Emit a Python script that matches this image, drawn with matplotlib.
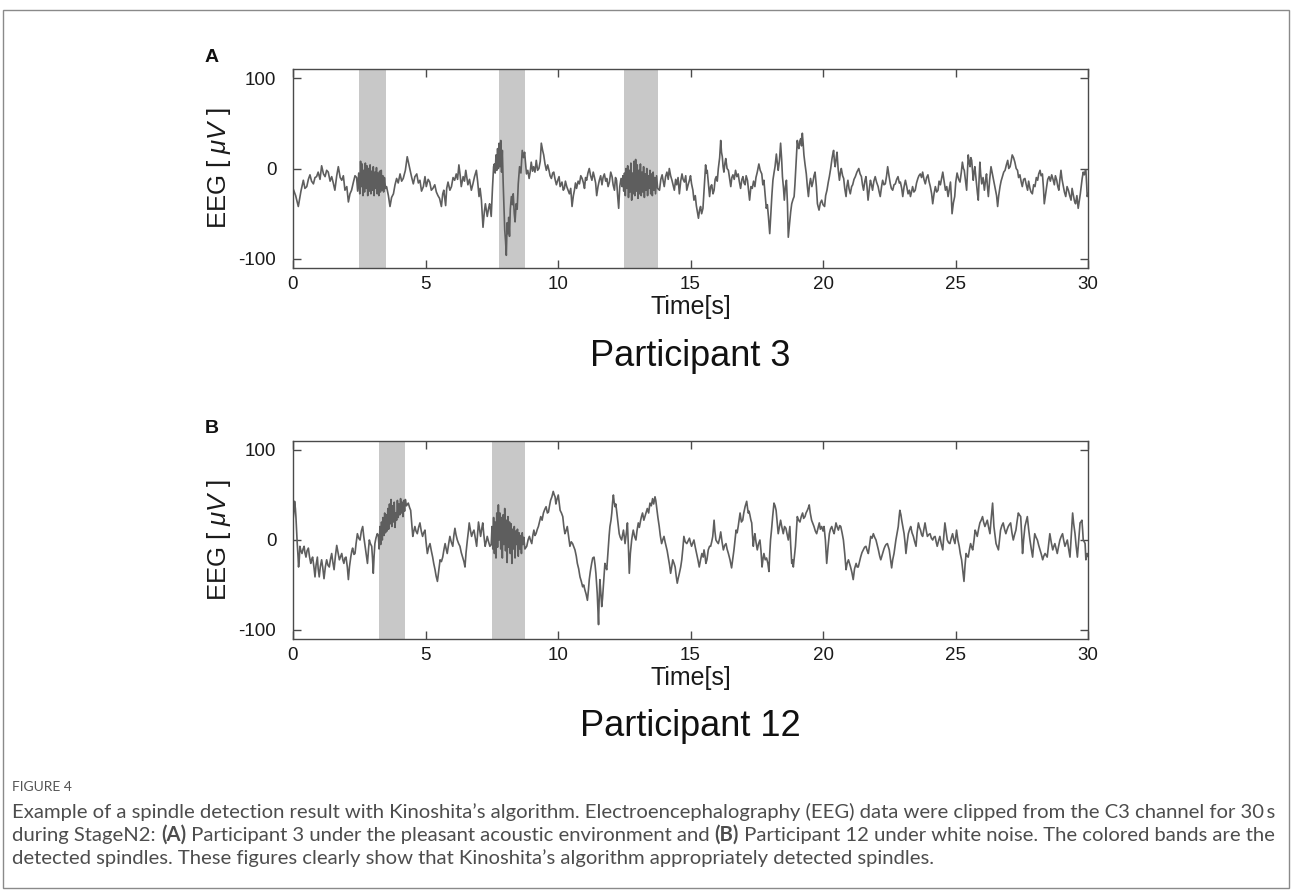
import numpy as np
import matplotlib
matplotlib.use('Agg')
import matplotlib.pyplot as plt
from matplotlib import font_manager

# spindle bands [start, end] in seconds
bands_a = [(2.5, 3.5), (7.76, 8.75), (12.5, 13.76)]
bands_b = [(3.26, 4.24), (7.51, 8.75)]

x_ticks = [0, 5, 10, 15, 20, 25, 30]
y_ticks = [-100, 0, 100]

# EEG trace, (time [s], amplitude [uV])
trace_a = [
    (0.00, -22), (0.10, -30), (0.20, -42), (0.30, -25), (0.39, -13), (0.45, -22),
    (0.52, -20), (0.58, -12), (0.64, -7), (0.70, -14), (0.77, -17), (0.83, -10),
    (0.89, -9), (0.95, -4), (1.02, -12), (1.08, 3), (1.15, -6), (1.21, -9),
    (1.27, -2), (1.33, -4), (1.40, -14), (1.46, -9), (1.52, -16), (1.58, -24),
    (1.65, -8), (1.71, 2), (1.78, -10), (1.84, -13), (1.90, -8), (1.96, -24),
    (2.03, -20), (2.09, -37), (2.15, -28), (2.21, -24), (2.28, -15), (2.34, -8),
    # spindle 1
    (2.40, -10), (2.44, -25), (2.48, -5), (2.52, -28), (2.55, 8), (2.58, -20),
    (2.61, 5), (2.64, -30), (2.67, -2), (2.70, -26), (2.73, 6), (2.76, -22),
    (2.79, 3), (2.82, -30), (2.85, 0), (2.88, -25), (2.91, 4), (2.94, -28),
    (2.97, -3), (3.00, -24), (3.03, 2), (3.06, -30), (3.09, -4), (3.12, -22),
    (3.15, 1), (3.18, -28), (3.21, -5), (3.24, -30), (3.27, -3), (3.30, -26),
    (3.33, -2), (3.36, -24), (3.39, -8), (3.42, -26), (3.45, -10), (3.49, -22),
    (3.53, -20), (3.60, -30), (3.66, -42), (3.72, -32), (3.79, -28), (3.85, -18),
    (3.91, -11), (3.97, -16), (4.04, -6), (4.10, -14), (4.16, -11), (4.24, -2),
    (4.31, 13), (4.36, 6), (4.42, -2), (4.48, -10), (4.54, -17), (4.60, -9),
    (4.67, -6), (4.73, -16), (4.79, -13), (4.85, -25), (4.92, -20), (4.98, -9),
    (5.03, -20), (5.10, -12), (5.16, -15), (5.22, -24), (5.28, -22), (5.35, -18),
    (5.41, -26), (5.47, -30), (5.53, -33), (5.60, -42), (5.65, -28), (5.69, -24),
    (5.76, -41), (5.80, -22), (5.85, -15), (5.92, -24), (5.98, -20), (6.04, -10),
    (6.10, -13), (6.16, -6), (6.21, -12), (6.26, 4), (6.31, -8), (6.35, -20),
    (6.42, -9), (6.47, -14), (6.52, -2), (6.56, -10), (6.60, -18), (6.66, -12),
    (6.73, -24), (6.79, -17), (6.85, -9), (6.92, -2), (6.97, -15), (7.02, -31),
    (7.06, -22), (7.11, -35), (7.17, -65), (7.22, -48), (7.26, -39), (7.33, -53),
    (7.38, -44), (7.42, -39), (7.48, -53), (7.53, -20), (7.57, 2),
    # spindle 2
    (7.60, 5), (7.63, -5), (7.66, 15), (7.69, -2), (7.72, 22), (7.75, 0),
    (7.78, 28), (7.81, 2), (7.84, 31), (7.87, -4), (7.90, 20), (7.93, -15),
    (7.96, -40), (7.99, -68), (8.02, -80), (8.05, -96), (8.08, -60), (8.11, -72),
    (8.14, -54), (8.17, -75), (8.20, -45), (8.24, -31), (8.28, -40), (8.31, -28),
    (8.35, -50), (8.38, -59), (8.42, -39), (8.46, -45), (8.50, -17), (8.55, 2),
    (8.60, -5), (8.65, 20), (8.70, 12), (8.74, 18),
    (8.81, -6), (8.86, -2), (8.91, -11), (8.95, -4), (8.99, 7), (9.04, -3),
    (9.08, 2), (9.13, -4), (9.18, 9), (9.23, -2), (9.28, 0), (9.33, 8),
    (9.37, 28), (9.42, 20), (9.46, 15), (9.51, 5), (9.56, -2), (9.61, 4),
    (9.66, -2), (9.70, -8), (9.75, -11), (9.80, -5), (9.84, -4), (9.89, -12),
    (9.94, -18), (9.99, -13), (10.04, -9), (10.08, -20), (10.15, -15), (10.20, -24),
    (10.24, -22), (10.28, -14), (10.33, -20), (10.38, -24), (10.43, -28), (10.48, -22),
    (10.53, -42), (10.58, -30), (10.62, -24), (10.66, -16), (10.70, -22), (10.76, -14),
    (10.81, -17), (10.86, -8), (10.91, -11), (10.96, -16), (11.00, -22), (11.04, -10),
    (11.08, -13), (11.13, -5), (11.18, 0), (11.23, -8), (11.28, -13), (11.33, -4),
    (11.37, -9), (11.42, -16), (11.46, -30), (11.51, -20), (11.56, -13), (11.61, -8),
    (11.66, -18), (11.70, -10), (11.75, -6), (11.80, -14), (11.84, -11), (11.89, -20),
    (11.94, -15), (11.99, -4), (12.04, -9), (12.08, -18), (12.13, -24), (12.17, -10),
    (12.21, -13), (12.25, -30), (12.29, -44), (12.33, -20), (12.38, -11), (12.42, -20),
    # spindle 3
    (12.45, -8), (12.48, -25), (12.51, -5), (12.54, -30), (12.57, 0), (12.60, -22),
    (12.63, 3), (12.66, -32), (12.69, -2), (12.72, -26), (12.75, 6), (12.78, -35),
    (12.81, -5), (12.84, -28), (12.87, 8), (12.90, -30), (12.93, 10), (12.96, -25),
    (12.99, 4), (13.02, -33), (13.05, -2), (13.08, -28), (13.11, 5), (13.14, -30),
    (13.17, -4), (13.20, -26), (13.23, 2), (13.26, -32), (13.29, -6), (13.32, -24),
    (13.35, 0), (13.38, -30), (13.41, -8), (13.44, -22), (13.47, -2), (13.50, -28),
    (13.53, -6), (13.56, -30), (13.59, -4), (13.62, -24), (13.65, -10), (13.68, -28),
    (13.72, -8), (13.76, -22),
    (13.83, -24), (13.88, -12), (13.93, -7), (13.97, -14), (14.01, -20), (14.06, -9),
    (14.11, -4), (14.16, -12), (14.20, 0), (14.25, -8), (14.30, -13), (14.34, -18),
    (14.39, -24), (14.44, -12), (14.48, -18), (14.53, -10), (14.58, -28), (14.63, -14),
    (14.68, -6), (14.72, -12), (14.77, -15), (14.82, -8), (14.86, -24), (14.91, -18),
    (14.96, -13), (15.00, -8), (15.04, -17), (15.09, -24), (15.13, -35), (15.18, -30),
    (15.22, -41), (15.26, -48), (15.30, -55), (15.34, -46), (15.38, -42), (15.42, -50),
    (15.47, -44), (15.52, -20), (15.57, 4), (15.60, -5), (15.63, -2), (15.68, -18),
    (15.72, -31), (15.76, -20), (15.80, -18), (15.85, -28), (15.89, -24), (15.93, -12),
    (15.97, -9), (16.01, -14), (16.05, 0), (16.10, 12), (16.14, 31), (16.17, 18),
    (16.20, 13), (16.23, 2), (16.26, -4), (16.30, 6), (16.33, 11), (16.38, 0),
    (16.43, -2), (16.48, -12), (16.52, -20), (16.56, -10), (16.60, -7), (16.65, -12),
    (16.70, -2), (16.75, -9), (16.80, -6), (16.84, -14), (16.89, -22), (16.94, -12),
    (16.98, -9), (17.02, -16), (17.06, -18), (17.10, -8), (17.15, -13), (17.19, -24),
    (17.23, -35), (17.28, -20), (17.33, -22), (17.38, -14), (17.43, -20), (17.47, -10),
    (17.52, -4), (17.58, 5), (17.63, -2), (17.69, -6), (17.73, -18), (17.77, -13),
    (17.82, -30), (17.86, -44), (17.90, -40), (17.94, -53), (17.99, -72), (18.03, -50),
    (18.07, -30), (18.11, -13), (18.15, -5), (18.19, 2), (18.24, 16), (18.28, 5),
    (18.31, -2), (18.36, 10), (18.40, 28), (18.44, 10), (18.47, -9), (18.51, -22),
    (18.54, -35), (18.58, -20), (18.62, -13), (18.66, -40), (18.69, -76), (18.74, -61),
    (18.78, -48), (18.82, -39), (18.87, -34), (18.91, -31), (18.94, -18), (18.97, -2),
    (19.00, 15), (19.03, 31), (19.06, 24), (19.09, 22), (19.12, 30), (19.16, 33),
    (19.19, 25), (19.22, 39), (19.25, 28), (19.28, 15), (19.32, 5), (19.37, -6),
    (19.41, -20), (19.45, -31), (19.49, -18), (19.53, -11), (19.58, -20), (19.62, -15),
    (19.66, -8), (19.70, -4), (19.75, -20), (19.79, -39), (19.85, -46), (19.90, -38),
    (19.95, -35), (20.00, -40), (20.06, -42), (20.10, -30), (20.15, -24), (20.20, -15),
    (20.24, -9), (20.29, 0), (20.34, 11), (20.37, 16), (20.40, 20), (20.43, 8),
    (20.46, 2), (20.50, 12), (20.53, 18), (20.57, 0), (20.62, -13), (20.66, -4),
    (20.69, 0), (20.74, -8), (20.78, -11), (20.82, -22), (20.87, -31), (20.90, -20),
    (20.94, -13), (20.98, -22), (21.03, -28), (21.08, -20), (21.12, -18), (21.17, -12),
    (21.22, -9), (21.28, -4), (21.35, 0), (21.40, -6), (21.45, -9), (21.49, -18),
    (21.53, -24), (21.58, -14), (21.62, -9), (21.66, -20), (21.70, -35), (21.75, -22),
    (21.79, -13), (21.83, -18), (21.87, -24), (21.92, -14), (21.97, -9), (22.02, -15),
    (22.08, -20), (22.12, -26), (22.16, -31), (22.21, -20), (22.25, -13), (22.30, -18),
    (22.35, -17), (22.40, -8), (22.44, 2), (22.49, -8), (22.54, -17), (22.58, -22),
    (22.63, -24), (22.68, -18), (22.73, -17), (22.78, -12), (22.83, -9), (22.88, -16),
    (22.92, -15), (22.97, -22), (23.01, -31), (23.06, -20), (23.11, -13), (23.16, -20),
    (23.21, -28), (23.26, -24), (23.30, -31), (23.34, -26), (23.38, -20), (23.43, -26),
    (23.48, -24), (23.53, -16), (23.58, -11), (23.62, -8), (23.67, -6), (23.72, -10),
    (23.76, -4), (23.81, -12), (23.86, -17), (23.91, -10), (23.96, -7), (24.00, -14),
    (24.05, -20), (24.10, -28), (24.14, -39), (24.19, -28), (24.24, -20), (24.29, -26),
    (24.34, -24), (24.38, -14), (24.43, -18), (24.48, -10), (24.52, -4), (24.57, -14),
    (24.62, -24), (24.67, -20), (24.72, -31), (24.77, -22), (24.81, -15), (24.84, -30),
    (24.87, -50), (24.92, -38), (24.97, -31), (25.01, -15), (25.06, -5), (25.12, -12),
    (25.17, -15), (25.22, -4), (25.26, 7), (25.30, 0), (25.33, -2), (25.38, -14),
    (25.42, -24), (25.45, -5), (25.48, 15), (25.52, 6), (25.55, 2), (25.58, 12),
    (25.61, 9), (25.64, -2), (25.67, -13), (25.70, -4), (25.73, 2), (25.77, -10),
    (25.80, -20), (25.83, -28), (25.86, -35), (25.89, -12), (25.92, 7), (25.95, -6),
    (25.99, -17), (26.04, -10), (26.09, -24), (26.13, -14), (26.17, -6), (26.20, -18),
    (26.24, -31), (26.29, -12), (26.34, 2), (26.38, -4), (26.43, -11), (26.47, -18),
    (26.51, -24), (26.55, -30), (26.59, -42), (26.63, -30), (26.68, -20), (26.72, -14),
    (26.77, -9), (26.82, -4), (26.87, -2), (26.92, 4), (26.97, 9), (27.01, 0),
    (27.06, 2), (27.10, 8), (27.14, 15), (27.19, 12), (27.24, 7), (27.29, 0),
    (27.34, -2), (27.38, -10), (27.43, -7), (27.48, -15), (27.52, -20), (27.57, -12),
    (27.62, -11), (27.67, -18), (27.72, -24), (27.76, -14), (27.81, -22), (27.85, -26),
    (27.90, -28), (27.95, -18), (28.00, -20), (28.05, -10), (28.10, -13), (28.14, -6),
    (28.19, -2), (28.23, -8), (28.28, -6), (28.32, -22), (28.35, -39), (28.40, -28),
    (28.44, -20), (28.48, -12), (28.53, -9), (28.58, -14), (28.63, -7), (28.68, -12),
    (28.73, -18), (28.77, -8), (28.82, -13), (28.86, -20), (28.90, -24), (28.94, -12),
    (28.98, -2), (29.02, -12), (29.07, -20), (29.11, -26), (29.16, -31), (29.21, -20),
    (29.26, -24), (29.31, -30), (29.36, -35), (29.40, -22), (29.45, -30), (29.49, -36),
    (29.53, -39), (29.58, -30), (29.63, -44), (29.67, -36), (29.71, -28), (29.75, -18),
    (29.78, -11), (29.82, -4), (29.86, -7), (29.90, -2), (29.92, -2), (29.95, -18),
    (29.97, -31), (30.00, -28),
]

trace_b = [
    (0.00, 22), (0.03, 30), (0.06, 43), (0.09, 35), (0.11, 26), (0.14, 8),
    (0.16, -4), (0.19, -18), (0.21, -30), (0.24, -20), (0.26, -7), (0.30, -12),
    (0.34, -15), (0.38, -10), (0.42, -7), (0.45, -14), (0.49, -19), (0.53, -12),
    (0.58, -9), (0.62, -18), (0.67, -26), (0.70, -22), (0.74, -19), (0.79, -30),
    (0.83, -41), (0.87, -28), (0.92, -19), (0.95, -32), (0.99, -41), (1.03, -30),
    (1.08, -22), (1.12, -30), (1.17, -43), (1.22, -30), (1.27, -22), (1.32, -28),
    (1.37, -30), (1.41, -22), (1.46, -15), (1.50, -24), (1.55, -33), (1.60, -18),
    (1.65, -6), (1.70, -14), (1.75, -22), (1.80, -18), (1.84, -15), (1.88, -22),
    (1.92, -26), (1.96, -20), (2.00, -19), (2.05, -30), (2.09, -44), (2.13, -30),
    (2.18, -19), (2.22, -12), (2.25, -9), (2.30, -16), (2.34, -15), (2.38, -4),
    (2.43, 7), (2.48, 2), (2.53, 0), (2.58, 10), (2.63, 15), (2.67, 4),
    (2.72, -7), (2.77, -18), (2.81, -26), (2.85, -10), (2.88, 0), (2.92, -4),
    (2.97, -7), (3.00, -20), (3.03, -37), (3.06, -18), (3.09, -4), (3.13, 2),
    (3.18, 7),
    # spindle 1
    (3.22, 5), (3.25, -10), (3.28, 15), (3.31, -5), (3.34, 20), (3.37, 0),
    (3.40, 25), (3.43, 5), (3.46, 30), (3.49, 8), (3.52, 28), (3.55, 10),
    (3.58, 35), (3.61, 12), (3.64, 40), (3.67, 18), (3.70, 45), (3.73, 15),
    (3.76, 38), (3.79, 20), (3.82, 42), (3.85, 14), (3.88, 30), (3.91, 22),
    (3.94, 44), (3.97, 25), (4.00, 40), (4.03, 28), (4.06, 46), (4.09, 30),
    (4.12, 42), (4.15, 26), (4.18, 44), (4.21, 32), (4.24, 45), (4.28, 38),
    (4.35, 41), (4.40, 36), (4.44, 33), (4.48, 18), (4.52, 4), (4.56, 10),
    (4.60, 15), (4.64, 10), (4.69, 7), (4.74, 14), (4.79, 19), (4.84, 10),
    (4.89, 4), (4.93, 8), (4.98, 11), (5.02, -2), (5.07, -15), (5.12, -8),
    (5.17, -4), (5.22, -12), (5.27, -19), (5.31, -26), (5.36, -33), (5.40, -40),
    (5.45, -46), (5.50, -34), (5.55, -22), (5.60, -24), (5.65, -19), (5.70, -10),
    (5.74, -4), (5.78, -10), (5.82, -15), (5.87, -5), (5.92, 4), (5.97, -2),
    (6.03, -7), (6.07, 5), (6.11, 13), (6.15, 6), (6.20, 0), (6.25, -4),
    (6.30, -7), (6.35, -14), (6.40, -19), (6.45, -24), (6.49, -30), (6.53, -14),
    (6.58, 0), (6.62, 10), (6.65, 19), (6.70, 10), (6.74, 4), (6.78, 8),
    (6.83, 11), (6.88, 2), (6.93, -7), (6.97, 8), (7.00, 20), (7.04, 12),
    (7.08, 4), (7.12, 12), (7.16, 19), (7.20, 6), (7.25, -7), (7.29, -2),
    (7.33, 4), (7.38, -2), (7.43, -7),
    # spindle 2
    (7.48, -5), (7.51, 15), (7.54, -10), (7.57, 25), (7.60, -15), (7.63, 20),
    (7.66, -20), (7.69, 30), (7.72, -8), (7.75, 39), (7.78, 0), (7.81, 30),
    (7.84, -10), (7.87, 25), (7.90, -20), (7.93, 28), (7.96, -5), (7.99, 35),
    (8.02, -12), (8.05, 22), (8.08, -25), (8.11, 26), (8.14, -8), (8.17, 20),
    (8.20, -15), (8.23, 18), (8.26, -26), (8.29, 12), (8.32, -10), (8.35, 15),
    (8.38, -20), (8.41, 10), (8.44, -5), (8.47, 12), (8.50, -18), (8.53, 8),
    (8.56, -10), (8.59, 5), (8.62, -15), (8.65, 8), (8.68, -5), (8.71, 3),
    (8.75, -10),
    (8.82, -7), (8.87, 0), (8.92, 4), (8.96, 0), (9.01, -4), (9.05, 5),
    (9.09, 11), (9.13, 5), (9.17, 7), (9.22, 12), (9.26, 15), (9.30, 20),
    (9.35, 26), (9.40, 22), (9.45, 30), (9.50, 34), (9.55, 37), (9.60, 30),
    (9.64, 31), (9.68, 38), (9.72, 44), (9.77, 48), (9.82, 54), (9.86, 50),
    (9.89, 48), (9.92, 40), (9.95, 44), (9.98, 47), (10.01, 50), (10.05, 40),
    (10.08, 33), (10.13, 30), (10.18, 26), (10.22, 15), (10.26, 7), (10.30, 10),
    (10.35, 15), (10.40, 4), (10.45, -7), (10.50, -2), (10.55, -4), (10.60, -8),
    (10.64, -11), (10.69, -18), (10.73, -26), (10.78, -32), (10.83, -41), (10.88, -46),
    (10.93, -52), (10.97, -50), (11.02, -56), (11.06, -60), (11.11, -67), (11.15, -55),
    (11.18, -44), (11.22, -35), (11.27, -26), (11.31, -20), (11.36, -19), (11.40, -28),
    (11.43, -37), (11.48, -59), (11.53, -94), (11.55, -70), (11.58, -44), (11.62, -60),
    (11.65, -74), (11.68, -65), (11.71, -52), (11.74, -38), (11.77, -26), (11.80, -30),
    (11.84, -33), (11.87, -20), (11.90, -7), (11.93, 5), (11.96, 15), (12.00, 22),
    (12.03, 30), (12.06, 42), (12.09, 50), (12.12, 42), (12.15, 37), (12.18, 40),
    (12.21, 33), (12.26, 20), (12.31, 7), (12.35, 3), (12.40, 0), (12.44, 6),
    (12.47, 11), (12.50, 4), (12.53, -4), (12.58, 8), (12.62, 19), (12.66, -10),
    (12.69, -37), (12.73, -15), (12.78, 0), (12.81, 6), (12.84, 11), (12.89, 4),
    (12.94, 0), (12.98, 10), (13.03, 19), (13.07, 14), (13.12, 22), (13.15, 26),
    (13.19, 30), (13.24, 22), (13.28, 26), (13.32, 30), (13.37, 35), (13.42, 30),
    (13.47, 41), (13.52, 38), (13.57, 46), (13.61, 40), (13.66, 48), (13.69, 44),
    (13.72, 37), (13.77, 25), (13.82, 15), (13.86, 5), (13.91, -4), (13.95, 0),
    (14.00, 4), (14.04, -2), (14.08, -7), (14.12, -12), (14.16, -19), (14.21, -28),
    (14.25, -37), (14.29, -30), (14.33, -22), (14.38, -26), (14.42, -30), (14.46, -40),
    (14.50, -48), (14.54, -42), (14.58, -37), (14.63, -30), (14.67, -22), (14.71, -10),
    (14.75, 4), (14.80, -2), (14.86, -4), (14.91, -1), (14.96, 2), (15.00, -3),
    (15.04, -7), (15.08, -4), (15.13, 0), (15.18, -8), (15.23, -15), (15.28, -22),
    (15.33, -30), (15.38, -22), (15.43, -15), (15.48, -19), (15.51, -11), (15.55, -18),
    (15.58, -26), (15.62, -22), (15.67, -11), (15.72, -7), (15.76, -7), (15.80, -2),
    (15.84, 4), (15.89, 22), (15.92, 10), (15.96, 0), (16.00, -2), (16.05, -4),
    (16.10, 2), (16.14, 9), (16.19, -2), (16.24, -11), (16.29, -6), (16.34, -4),
    (16.38, -10), (16.43, -15), (16.49, -22), (16.55, -31), (16.60, -20), (16.64, -11),
    (16.68, 0), (16.72, 11), (16.76, 8), (16.80, 15), (16.84, 24), (16.87, 30),
    (16.92, 20), (16.97, 22), (17.01, 30), (17.06, 37), (17.09, 40), (17.12, 43),
    (17.15, 36), (17.18, 30), (17.21, 32), (17.24, 28), (17.28, 22), (17.31, 19),
    (17.34, 5), (17.37, -7), (17.40, 2), (17.43, 7), (17.47, -2), (17.52, -11),
    (17.57, -4), (17.62, 0), (17.66, -12), (17.70, -30), (17.74, -20), (17.77, -15),
    (17.82, -22), (17.87, -20), (17.92, -26), (17.96, -35), (17.99, -15), (18.02, 0),
    (18.06, 12), (18.10, 26), (18.13, 35), (18.15, 41), (18.19, 38), (18.23, 33),
    (18.27, 20), (18.31, 7), (18.36, 15), (18.40, 22), (18.45, 14), (18.50, 7),
    (18.55, 15), (18.60, 13), (18.65, 6), (18.69, 0), (18.72, 8), (18.75, 15),
    (18.78, -5), (18.82, -26), (18.85, -22), (18.88, -30), (18.92, -18), (18.96, -7),
    (19.00, 12), (19.03, 26), (19.08, 22), (19.13, 20), (19.18, 26), (19.23, 30),
    (19.27, 24), (19.32, 26), (19.36, 30), (19.41, 33), (19.45, 36), (19.48, 39),
    (19.52, 30), (19.57, 22), (19.62, 18), (19.66, 15), (19.71, 10), (19.76, 7),
    (19.81, 13), (19.86, 19), (19.90, 12), (19.95, 15), (20.00, 10), (20.04, 15),
    (20.09, 0), (20.14, -26), (20.19, -8), (20.24, 7), (20.28, 12), (20.33, 15),
    (20.38, 10), (20.42, 7), (20.46, 14), (20.49, 19), (20.54, 14), (20.58, 11),
    (20.63, 16), (20.67, 15), (20.72, 8), (20.77, 0), (20.82, -15), (20.87, -33),
    (20.91, -26), (20.96, -22), (21.00, -26), (21.04, -30), (21.09, -36), (21.14, -44),
    (21.19, -32), (21.25, -26), (21.29, -30), (21.33, -30), (21.38, -24), (21.42, -19),
    (21.47, -14), (21.52, -11), (21.57, -8), (21.62, -7), (21.67, -12), (21.71, -15),
    (21.76, -5), (21.80, 4), (21.85, 2), (21.90, 7), (21.95, 3), (22.00, 0),
    (22.05, -6), (22.09, -11), (22.14, -18), (22.18, -22), (22.22, -18), (22.25, -15),
    (22.30, -10), (22.34, -7), (22.38, -5), (22.43, -4), (22.47, -8), (22.50, -11),
    (22.55, -22), (22.59, -31), (22.63, -22), (22.68, -15), (22.72, -6), (22.75, 0),
    (22.80, 8), (22.84, 15), (22.87, 25), (22.90, 33), (22.94, 28), (22.97, 22),
    (23.02, 14), (23.06, 7), (23.10, -4), (23.13, -15), (23.17, -4), (23.22, 7),
    (23.27, 12), (23.31, 15), (23.36, 8), (23.41, 4), (23.46, -2), (23.51, -7),
    (23.55, 8), (23.60, 19), (23.64, 14), (23.68, 11), (23.72, 6), (23.76, 4),
    (23.81, 12), (23.85, 19), (23.90, 10), (23.94, 4), (23.99, 6), (24.04, 7),
    (24.09, 2), (24.14, 0), (24.18, 3), (24.23, 4), (24.27, -2), (24.31, -7),
    (24.36, -1), (24.41, 4), (24.46, -4), (24.52, -11), (24.56, 5), (24.60, 19),
    (24.65, 8), (24.69, 0), (24.74, -3), (24.79, -4), (24.84, 2), (24.89, 7),
    (24.93, 1), (24.98, -4), (25.01, 4), (25.04, 11), (25.09, 0), (25.14, -7),
    (25.18, -15), (25.23, -22), (25.28, -35), (25.32, -46), (25.36, -28), (25.40, -15),
    (25.44, -18), (25.48, -19), (25.53, -10), (25.57, -4), (25.61, -8), (25.65, -11),
    (25.70, 0), (25.74, 11), (25.78, 8), (25.82, 4), (25.87, 12), (25.92, 19),
    (25.97, 22), (26.02, 26), (26.06, 20), (26.11, 15), (26.15, 18), (26.20, 22),
    (26.25, 14), (26.30, 7), (26.35, 25), (26.40, 41), (26.45, 15), (26.49, 5),
    (26.53, -4), (26.58, -8), (26.62, -11), (26.66, 0), (26.70, 11), (26.75, 16),
    (26.80, 19), (26.85, 12), (26.90, 7), (26.94, 11), (26.99, 15), (27.03, 17),
    (27.08, 19), (27.13, 8), (27.18, 0), (27.23, 6), (27.28, 11), (27.32, 20),
    (27.37, 30), (27.41, 28), (27.46, 26), (27.50, 5), (27.53, -15), (27.57, 0),
    (27.62, 15), (27.66, 20), (27.71, 26), (27.76, 12), (27.81, 0), (27.86, -10),
    (27.91, -19), (27.95, -5), (27.99, 7), (28.04, 3), (28.09, 0), (28.14, -6),
    (28.19, -11), (28.24, -16), (28.29, -22), (28.33, -18), (28.38, -15), (28.42, -17),
    (28.46, -19), (28.51, -6), (28.56, 7), (28.61, -2), (28.67, -11), (28.71, -7),
    (28.75, -4), (28.80, -10), (28.84, -15), (28.89, -7), (28.94, 0), (28.99, 4),
    (29.04, 7), (29.08, 0), (29.13, -7), (29.18, -3), (29.22, 0), (29.27, -10),
    (29.32, -19), (29.37, 5), (29.42, 30), (29.46, 18), (29.51, 7), (29.55, -6),
    (29.60, -19), (29.65, 0), (29.70, 19), (29.73, 20), (29.77, 22), (29.80, 10),
    (29.82, 0), (29.86, -2), (29.89, -4), (29.92, -22), (29.95, -18), (29.97, -15),
    (30.00, -18),
]

panel_letters = ['A', 'B']
panel_titles = ['Participant 3', 'Participant 12']

fig_label = 'FIGURE 4'
caption_lines = [
    [('Example of a spindle detection result with Kinoshita\u2019s algorithm. '
      'Electroencephalography (EEG) data were clipped from the C3 channel for 30\u2009s', False)],
    [('during StageN2: ', False), ('(A)', True),
     (' Participant 3 under the pleasant acoustic environment and ', False), ('(B)', True),
     (' Participant 12 under white noise. The colored bands are the', False)],
    [('detected spindles. These figures clearly show that Kinoshita\u2019s algorithm '
      'appropriately detected spindles.', False)],
]

W, H = 1292, 891
plt.rcParams['font.family'] = ['Liberation Sans', 'DejaVu Sans']
plt.rcParams['mathtext.fontset'] = 'custom'
plt.rcParams['mathtext.it'] = 'Liberation Sans:italic'
plt.rcParams['mathtext.rm'] = 'Liberation Sans'

fig = plt.figure(figsize=(W / 100, H / 100), dpi=100)

def fx(px):
    return px / W

def fy(py):
    return 1 - py / H

# outer frame of the figure page
fig.add_artist(plt.Rectangle((fx(3), fy(888)), fx(1286), (878) / H, transform=fig.transFigure,
                             fill=False, ec='#8a8a8a', lw=1.0))

ax_left, ax_right = 293, 1088
panels = [
    (69, 268, trace_a, bands_a),
    (441, 639, trace_b, bands_b),
]

line_col = '#5e5e5e'
frame_col = '#4a4a4a'

for i, (top, bot, trace, bands) in enumerate(panels):
    ax = fig.add_axes([fx(ax_left), fy(bot), fx(ax_right - ax_left), (bot - top) / H])
    tr = np.array(trace)
    for b0, b1 in bands:
        ax.axvspan(b0, b1, color='#c8c8c8', lw=0, zorder=1)
    ax.plot(tr[:, 0], tr[:, 1], color=line_col, lw=1.2, zorder=2)
    ax.set_xlim(0, 30)
    ax.set_ylim(-110, 110)
    ax.set_xticks(x_ticks)
    ax.set_yticks(y_ticks)
    ax.set_yticklabels([str(v) for v in y_ticks])
    ax.tick_params(direction='in', top=True, right=True, length=6, width=1,
                   color=frame_col, labelsize=13.5, labelcolor='#1a1a1a')
    ax.tick_params(axis='y', pad=12)
    ax.tick_params(axis='x', pad=6)
    for s in ax.spines.values():
        s.set_color(frame_col)
        s.set_linewidth(1.0)
    ax.set_xlabel('Time[s]', fontsize=18, color='#1a1a1a', labelpad=1)
    ax.set_ylabel('EEG [ $\\mu V$ ]', fontsize=18.5, color='#1a1a1a', labelpad=4)

    fig.text(fx(205), fy(top - 12), panel_letters[i], fontsize=14, fontweight='bold',
             ha='left', va='center', color='#111111')
    fig.text(fx((ax_left + ax_right) / 2), fy(bot + 88), panel_titles[i], fontsize=26,
             ha='center', va='center', color='#111111')

# caption
cap_font = 'Lato'
for name in ['Liberation Sans Narrow', 'Lato']:
    try:
        font_manager.findfont(name, fallback_to_default=False)
        cap_font = name
        break
    except Exception:
        pass

renderer = fig.canvas.get_renderer()
cap_col = '#4d4d4d'
fig.text(fx(12), fy(787), fig_label, fontsize=10, color='#555555', va='center',
         family=[cap_font, 'DejaVu Sans'])

# scale the caption size so that the first line fills the page width
probe = fig.text(0, 0, caption_lines[0][0][0], fontsize=12, family=[cap_font, 'DejaVu Sans'])
pw = probe.get_window_extent(renderer=renderer).width
probe.remove()
cap_size = 12 * 1261 / pw

for k, segs in enumerate(caption_lines):
    x = 12
    y = 812 + 23 * k
    for txt, bold in segs:
        t = fig.text(fx(x), fy(y), txt, fontsize=cap_size, color=cap_col, va='center',
                     fontweight='bold' if bold else 'normal', family=[cap_font, 'DejaVu Sans'])
        x += t.get_window_extent(renderer=renderer).width

fig.savefig('out.png', dpi=100)
